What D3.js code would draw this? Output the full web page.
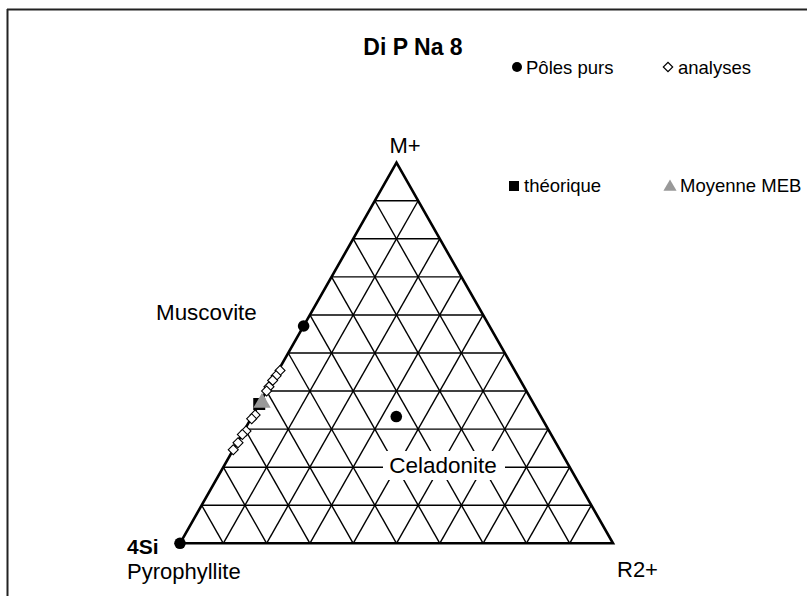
<!DOCTYPE html>
<html>
<head>
<meta charset="utf-8">
<script src="https://cdn.jsdelivr.net/npm/d3@7/dist/d3.min.js"></script>
<style>
  html, body { margin: 0; padding: 0; background: #fff; }
  svg { display: block; }
  text { font-family: "Liberation Sans", Arial, Helvetica, sans-serif; fill: #000; }
</style>
</head>
<body>
<svg id="chart" width="807" height="596"></svg>
<script>
// Ternary compositions: [M+, 4Si, R2+] fractions
const poleNames = ["Pyrophyllite", "Muscovite", "Celadonite"];
const poleMplus = [0, 0.571, 0.333];
const poleR2 = [0, 0, 0.333];

// Individual analyses (M+ and R2+ fractions; 4Si = remainder)
const analysesMplus = [0.454, 0.440, 0.428, 0.411, 0.400, 0.337, 0.327, 0.295, 0.286, 0.264, 0.246];
const analysesR2 = [0.004, 0.002, 0.000, 0.000, 0.000, 0.005, 0.002, 0.005, 0.001, 0.002, 0.000];

// Theoretical composition and SEM mean
const theoMplus = [0.366];
const theoR2 = [0.000];
const mebMplus = [0.369];
const mebR2 = [0.005];

const gridSteps = 10;
const vertexLabels = ["M+", "R2+"];
const legendLabels = ["Pôles purs", "analyses", "théorique", "Moyenne MEB"];
const title = "Di P Na 8";

const svg = d3.select("#chart");

// Frame lines (top and left)
svg.append("line").attr("x1", 7).attr("y1", 9.5).attr("x2", 807).attr("y2", 9.5)
  .attr("stroke", "#222").attr("stroke-width", 2);
svg.append("line").attr("x1", 7.5).attr("y1", 9).attr("x2", 7.5).attr("y2", 596)
  .attr("stroke", "#222").attr("stroke-width", 2);

// Ternary projection: y from M+, x from (R2+ + M+/2)
const yScale = d3.scaleLinear().domain([0, 1]).range([543.3, 162.7]);
const xScale = d3.scaleLinear().domain([0, 1]).range([180, 613]);
const proj = (m, r) => [xScale(r + m / 2), yScale(m)];

const grid = svg.append("g").attr("stroke", "#000").attr("stroke-width", 1.4).attr("fill", "none");
for (let i = 1; i < gridSteps; i++) {
  const t = i / gridSteps;
  const segs = [
    [proj(t, 0), proj(t, 1 - t)],          // constant M+
    [proj(0, t), proj(1 - t, t)],          // constant R2+
    [proj(0, 1 - t), proj(1 - t, 0)]       // constant 4Si
  ];
  segs.forEach(([a, b]) => {
    grid.append("line").attr("x1", a[0]).attr("y1", a[1]).attr("x2", b[0]).attr("y2", b[1]);
  });
}

// Outer triangle
const corners = [proj(0, 0), proj(1, 0), proj(0, 1)];
svg.append("path")
  .attr("d", d3.line()(corners) + "Z")
  .attr("fill", "none").attr("stroke", "#000").attr("stroke-width", 2.6)
  .attr("stroke-linejoin", "miter");

// Celadonite label with white backing
const celG = svg.append("g");
celG.append("rect").attr("x", 383).attr("y", 451).attr("width", 122).attr("height", 29).attr("fill", "#fff");
celG.append("text").attr("x", 443).attr("y", 473).attr("text-anchor", "middle")
  .attr("font-size", 22.5).text(poleNames[2]);

// Pure end-members
svg.append("g").selectAll("circle")
  .data(poleMplus.map((m, i) => proj(m, poleR2[i])))
  .join("circle")
  .attr("cx", d => d[0]).attr("cy", d => d[1]).attr("r", 5.8).attr("fill", "#000");

// Analyses (open diamonds)
const diamond = d3.symbol().type(d3.symbolSquare).size(50);
svg.append("g").selectAll("path")
  .data(analysesMplus.map((m, i) => proj(m, analysesR2[i])))
  .join("path")
  .attr("d", diamond)
  .attr("transform", d => `translate(${d[0]},${d[1]}) rotate(45)`)
  .attr("fill", "#fff").attr("stroke", "#000").attr("stroke-width", 1.1);

// Theoretical composition (black square)
svg.append("g").selectAll("rect")
  .data(theoMplus.map((m, i) => proj(m, theoR2[i])))
  .join("rect")
  .attr("x", d => d[0] - 6).attr("y", d => d[1] - 6).attr("width", 12).attr("height", 12)
  .attr("fill", "#000");

// SEM mean (grey triangle)
svg.append("g").selectAll("path")
  .data(mebMplus.map((m, i) => proj(m, mebR2[i])))
  .join("path")
  .attr("d", d3.symbol().type(d3.symbolTriangle).size(130))
  .attr("transform", d => `translate(${d[0]},${d[1]})`)
  .attr("fill", "#999");

// Vertex and end-member labels
svg.append("text").attr("x", 405).attr("y", 153).attr("text-anchor", "middle").attr("font-size", 22).text(vertexLabels[0]);
svg.append("text").attr("x", 617).attr("y", 577).attr("font-size", 22).text(vertexLabels[1]);
svg.append("text").attr("x", 156).attr("y", 320).attr("font-size", 22.4).text(poleNames[1]);
svg.append("text").attr("x", 127).attr("y", 554).attr("font-size", 21).attr("font-weight", "bold").text("4Si");
svg.append("text").attr("x", 127).attr("y", 579).attr("font-size", 22).text(poleNames[0]);

// Title
svg.append("text").attr("x", 413).attr("y", 55).attr("text-anchor", "middle")
  .attr("font-size", 23).attr("font-weight", "bold").text(title);

// Legend
const leg = svg.append("g");
leg.append("circle").attr("cx", 517).attr("cy", 67).attr("r", 5).attr("fill", "#000");
leg.append("text").attr("x", 526).attr("y", 74).attr("font-size", 18.5).text(legendLabels[0]);
leg.append("path").attr("d", d3.symbol().type(d3.symbolSquare).size(44))
  .attr("transform", "translate(668,67) rotate(45)")
  .attr("fill", "#fff").attr("stroke", "#000").attr("stroke-width", 1.2);
leg.append("text").attr("x", 678).attr("y", 74).attr("font-size", 18.5).text(legendLabels[1]);
leg.append("rect").attr("x", 509).attr("y", 181).attr("width", 10).attr("height", 10).attr("fill", "#000");
leg.append("text").attr("x", 524).attr("y", 192).attr("font-size", 18.5).text(legendLabels[2]);
leg.append("path").attr("d", d3.symbol().type(d3.symbolTriangle).size(75))
  .attr("transform", "translate(670,187)")
  .attr("fill", "#999");
leg.append("text").attr("x", 680).attr("y", 192).attr("font-size", 18.5).text(legendLabels[3]);
</script>
</body>
</html>
